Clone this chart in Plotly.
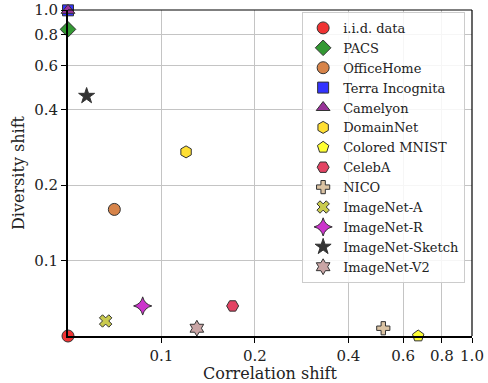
import plotly.graph_objects as go

names = ["i.i.d. data", "PACS", "OfficeHome", "Terra Incognita", "Camelyon",
         "DomainNet", "Colored MNIST", "CelebA", "NICO", "ImageNet-A",
         "ImageNet-R", "ImageNet-Sketch", "ImageNet-V2"]
correlation_shift = [0.05, 0.05, 0.0705, 0.05, 0.05, 0.120, 0.671, 0.1695,
                     0.518, 0.0661, 0.087, 0.0574, 0.130]
diversity_shift = [0.05, 0.837, 0.160, 0.997, 0.997, 0.2715, 0.05, 0.0659,
                   0.0537, 0.0574, 0.0659, 0.454, 0.0537]
colors = ["#f03333", "#339933", "#d7844a", "#3333ff", "#993399", "#ffdf33",
          "#ffff33", "#e34363", "#dbc3a3", "#c9ca4e", "#cc33cc", "#333333",
          "#c9a5a5"]
symbols = ["circle", "diamond", "circle", "square", "triangle-up", "hexagon",
           "pentagon", "hexagon2", "cross", "x", "star-diamond", "star",
           "hexagram"]
sizes = [12, 12, 12, 11, 12, 12, 12, 12, 11, 11, 13, 12, 12]
tick_vals = [0.1, 0.2, 0.4, 0.6, 0.8, 1.0]
tick_text = ["0.1", "0.2", "0.4", "0.6", "0.8", "1.0"]

FONT = "DejaVu Serif"
fig = go.Figure()
for i, n in enumerate(names):
    fig.add_trace(go.Scatter(
        x=[correlation_shift[i]], y=[diversity_shift[i]], mode="markers",
        name=n, cliponaxis=False,
        marker=dict(symbol=symbols[i], color=colors[i], size=sizes[i],
                    line=dict(color="#333333", width=1))))

axis_common = dict(type="log", tickvals=tick_vals, ticktext=tick_text,
                   showgrid=True, gridcolor="#c4c4c4", gridwidth=1,
                   ticks="outside", ticklen=5, tickcolor="black",
                   showline=True, linecolor="black", linewidth=2, mirror=False,
                   tickfont=dict(family=FONT, size=15, color="#222"),
                   zeroline=False, automargin=False)
fig.update_xaxes(range=[-1.30103, 0.0], title=dict(text="Correlation shift",
                 font=dict(family=FONT, size=16, color="#222"), standoff=6),
                 **axis_common)
fig.update_yaxes(range=[-1.30103, 0.0], title=dict(text="Diversity shift",
                 font=dict(family=FONT, size=16, color="#222"), standoff=6),
                 **axis_common)
# top and right frame lines
fig.add_shape(type="line", xref="paper", yref="paper", x0=0, x1=1, y0=1, y1=1,
              line=dict(color="black", width=1.2), layer="above")
fig.add_shape(type="line", xref="paper", yref="paper", x0=1, x1=1, y0=0, y1=1,
              line=dict(color="black", width=1.2), layer="above")

fig.update_layout(
    width=488, height=383,
    margin=dict(l=68, r=16, t=10, b=47),
    plot_bgcolor="white", paper_bgcolor="white",
    font=dict(family=FONT, size=13, color="#222"),
    legend=dict(x=0.983, xanchor="right", y=0.994, yanchor="top",
                bgcolor="rgba(255,255,255,0.85)", bordercolor="#cccccc",
                borderwidth=1, font=dict(family=FONT, size=13, color="#222")),
)
fig.write_html("out.html", config={"displayModeBar": False},
               post_script="document.body.style.margin='0px';document.body.style.overflow='hidden';")
